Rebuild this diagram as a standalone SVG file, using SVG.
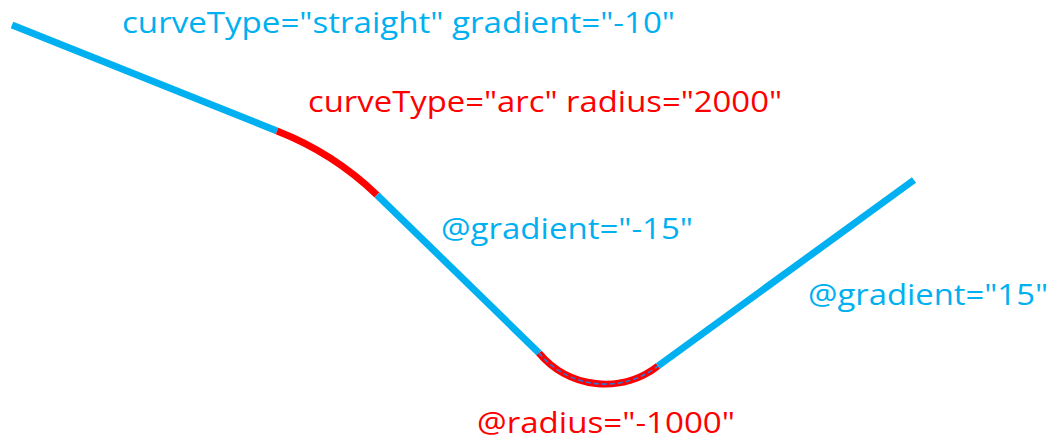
<svg xmlns="http://www.w3.org/2000/svg" width="1053" height="443" viewBox="0 0 1053 443">
<style>
.seg{fill:none;stroke-width:7;stroke-linecap:butt}
.straight{stroke:#00B0F0}
.arc{stroke:#FF0000}
.dash{fill:none;stroke:#2E75D6;stroke-width:1.6;stroke-dasharray:5 3}
.lbl{font-family:"Open Sans","Liberation Sans",sans-serif;font-size:29.5px}
.blue{fill:#00B0F0}
.red{fill:#FF0000}
</style>
<rect width="1053" height="443" fill="#FFFFFF"/>
<g id="connectors">
<path id="s1" class="seg straight" d="M12,25 L277,131"/>
<path id="a1" class="seg arc" d="M277,131 A302,302 0 0 1 377,195"/>
<path id="s2" class="seg straight" d="M377,195 L539,353"/>
<path id="a2" class="seg arc" d="M539,353 A86,86 0 0 0 658,366"/>
<path id="a2d" class="dash" d="M539,353 A86,86 0 0 0 658,366"/>
<path id="s3" class="seg straight" d="M658,366 L914,180"/>
</g>
<g id="label-straight"><text class="lbl blue" x="122" y="33" textLength="553" lengthAdjust="spacingAndGlyphs">curveType="straight" gradient="-10"</text></g>
<g id="label-arc"><text class="lbl red" x="308" y="112" textLength="474" lengthAdjust="spacingAndGlyphs">curveType="arc" radius="2000"</text></g>
<g id="label-grad-15"><text class="lbl blue" x="441" y="239" textLength="252" lengthAdjust="spacingAndGlyphs">@gradient="-15"</text></g>
<g id="label-grad15"><text class="lbl blue" x="808" y="305" textLength="240" lengthAdjust="spacingAndGlyphs">@gradient="15"</text></g>
<g id="label-radius"><text class="lbl red" x="477" y="433" textLength="258" lengthAdjust="spacingAndGlyphs">@radius="-1000"</text></g>
</svg>
